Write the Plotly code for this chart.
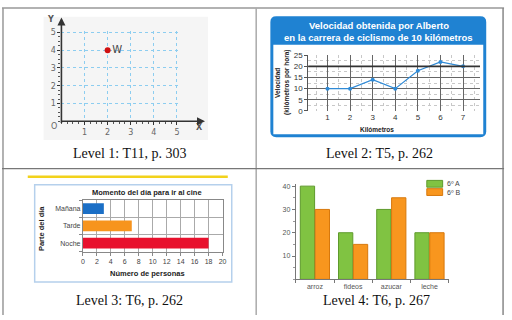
import plotly.graph_objects as go

W, H = 512, 320
def X(px): return px / W
def Y(py): return 1 - py / H

# ---------------- data ----------------
p1_x = [2]
p1_y = [4]
p1_label = ["W"]
p1_ticks = [1, 2, 3, 4, 5]

p2_km = [1, 2, 3, 4, 5, 6, 7]
p2_speed = [10, 10, 14, 10, 18, 22, 20]
p2_yticks = [0, 5, 10, 15, 20, 25]

p3_cat = ["Mañana", "Tarde", "Noche"]
p3_val = [3, 7, 18]
p3_xticks = [0, 2, 4, 6, 8, 10, 12, 14, 16, 18, 20]

p4_cat = ["arroz", "fideos", "azucar", "leche"]
p4_a = [40, 20, 30, 20]
p4_b = [30, 15, 35, 20]
p4_names = ["6º A", "6º B"]
p4_yticks = [10, 20, 30, 40]

captions = ["Level 1: T11, p. 303", "Level 2: T5, p. 262",
            "Level 3: T6, p. 262", "Level 4: T6, p. 267"]

fig = go.Figure()

# ---- panel 1 ----
fig.add_trace(go.Scatter(x=p1_x, y=p1_y, mode="markers+text", text=p1_label,
                         textposition="middle right",
                         textfont=dict(family="DejaVu Sans", size=10, color="#444"),
                         marker=dict(color="#d01010", size=6),
                         xaxis="x", yaxis="y", showlegend=False, cliponaxis=False))
# ---- panel 2 ----
fig.add_trace(go.Scatter(x=p2_km, y=p2_speed, mode="lines+markers",
                         line=dict(color="#2f8ad6", width=1.2),
                         marker=dict(color="#2f8ad6", size=4),
                         xaxis="x2", yaxis="y2", showlegend=False))
# ---- panel 3 ----
fig.add_trace(go.Bar(y=p3_cat, x=p3_val, orientation="h", width=0.62,
                     marker=dict(color=["#1b6fc6", "#f7941d", "#e8112d"], line=dict(width=0)),
                     xaxis="x3", yaxis="y3", showlegend=False))
# ---- panel 4 ----
fig.add_trace(go.Bar(x=p4_cat, y=p4_a, name=p4_names[0],
                     marker=dict(color="#80c342", line=dict(color="#5e9a2c", width=1)),
                     xaxis="x4", yaxis="y4", showlegend=False))
fig.add_trace(go.Bar(x=p4_cat, y=p4_b, name=p4_names[1],
                     marker=dict(color="#f8961e", line=dict(color="#d7780c", width=1)),
                     xaxis="x4", yaxis="y4", showlegend=False))

def rrect(x0, y0, x1, y1, r):
    def P(x, y): return f"{X(x):.5f},{Y(y):.5f}"
    return (f"M {P(x0+r,y0)} L {P(x1-r,y0)} Q {P(x1,y0)} {P(x1,y0+r)} "
            f"L {P(x1,y1-r)} Q {P(x1,y1)} {P(x1-r,y1)} L {P(x0+r,y1)} "
            f"Q {P(x0,y1)} {P(x0,y1-r)} L {P(x0,y0+r)} Q {P(x0,y0)} {P(x0+r,y0)} Z")

shapes = []
# table borders
shapes += [
    dict(type="line", xref="paper", yref="paper", x0=X(0), x1=X(507), y0=Y(4), y1=Y(4), line=dict(color="#999", width=1.5)),
    dict(type="line", xref="paper", yref="paper", x0=X(1), x1=X(1), y0=Y(4), y1=Y(320), line=dict(color="#999", width=1.5)),
    dict(type="line", xref="paper", yref="paper", x0=X(256.7), x1=X(256.7), y0=Y(4), y1=Y(320), line=dict(color="#aaa", width=1.5)),
    dict(type="line", xref="paper", yref="paper", x0=X(506), x1=X(506), y0=Y(4), y1=Y(320), line=dict(color="#888", width=1.5)),
    dict(type="line", xref="paper", yref="paper", x0=X(0), x1=X(507), y0=Y(169.3), y1=Y(169.3), line=dict(color="#777", width=1.2)),
]
# panel 1 background
shapes.append(dict(type="rect", xref="paper", yref="paper", x0=X(42), x1=X(208), y0=Y(13), y1=Y(140),
                   fillcolor="#f5f5f5", line=dict(width=0), layer="below"))
# panel 2 frame
shapes.append(dict(type="path", xref="paper", yref="paper", path=rrect(271, 12.5, 489, 137, 6),
                   fillcolor="#1f82d2", line=dict(width=0), layer="below"))
shapes.append(dict(type="rect", xref="paper", yref="paper", x0=X(274), x1=X(486), y0=Y(42), y1=Y(134),
                   fillcolor="white", line=dict(width=0), layer="below"))
shapes.append(dict(type="line", xref="x2 domain", yref="y2", x0=0, x1=1, y0=20, y1=20,
                   line=dict(color="#333", width=1.6)))
# panel 3 frame
shapes.append(dict(type="line", xref="paper", yref="paper", x0=X(26), x1=X(228), y0=Y(177.7), y1=Y(177.7),
                   line=dict(color="#f2d21b", width=2.5)))
shapes.append(dict(type="rect", xref="paper", yref="paper", x0=X(33), x1=X(232), y0=Y(186), y1=Y(286),
                   fillcolor="white", line=dict(color="#b5d0ec", width=1.5), layer="below"))
# panel 4 manual legend boxes
shapes.append(dict(type="rect", xref="paper", yref="paper", x0=X(429), x1=X(445), y0=Y(181.5), y1=Y(188.5),
                   fillcolor="#80c342", line=dict(color="#5e9a2c", width=1)))
shapes.append(dict(type="rect", xref="paper", yref="paper", x0=X(429), x1=X(445), y0=Y(190), y1=Y(197),
                   fillcolor="#f8961e", line=dict(color="#d7780c", width=1)))

ann = []
def A(text, px, py, size=9, color="#333", family="Liberation Sans", bold=False, angle=0, xanchor="center"):
    t = f"<b>{text}</b>" if bold else text
    ann.append(dict(text=t, x=X(px), y=Y(py), xref="paper", yref="paper", showarrow=False,
                    xanchor=xanchor, yanchor="middle", textangle=angle,
                    font=dict(size=size, color=color, family=family)))

# captions
A(captions[0], 129, 154, 14, "#111", "Liberation Serif")
A(captions[1], 381, 154, 14, "#111", "Liberation Serif")
A(captions[2], 129, 305, 14, "#111", "Liberation Serif")
A(captions[3], 378, 305, 14, "#111", "Liberation Serif")
# panel 1 labels
A("Y", 48.5, 16, 8, "#555", "DejaVu Sans", True)
A("X", 199.5, 127, 8, "#555", "DejaVu Sans", True)
A("O", 53, 126, 8, "#666", "DejaVu Sans")
# axis arrows panel 1
ann.append(dict(x=X(205), y=Y(120.7), xref="paper", yref="paper", ax=-145, ay=0, text="",
                showarrow=True, arrowhead=2, arrowsize=1, arrowwidth=1.6, arrowcolor="#333"))
ann.append(dict(x=X(60), y=Y(14), xref="paper", yref="paper", ax=0, ay=107, text="",
                showarrow=True, arrowhead=2, arrowsize=1, arrowwidth=1.6, arrowcolor="#333"))
# panel 2 title
A("Velocidad obtenida por Alberto", 381, 22, 9.5, "white", "Liberation Sans", True)
A("en la carrera de ciclismo de 10 kilómetros", 380, 34.5, 9.5, "white", "Liberation Sans", True)
A("Velocidad", 278, 81, 6.5, "#222", "Liberation Sans", True, -90)
A("(kilómetros por hora)", 288, 81, 6.5, "#222", "Liberation Sans", True, -90)
A("Kilómetros", 379, 129, 6.5, "#222", "Liberation Sans", True)
# panel 3 titles
A("Momento del día para ir al cine", 146, 194, 7.5, "#222", "Liberation Sans", True)
A("Número de personas", 147, 277, 7.5, "#222", "Liberation Sans", True)
A("Parte del día", 40, 231, 7.5, "#222", "Liberation Sans", True, -90)
# panel 4 legend text
A(p4_names[0], 447, 184.5, 7, "#444", "Liberation Sans", False, 0, "left")
A(p4_names[1], 447, 194, 7, "#444", "Liberation Sans", False, 0, "left")

tf_small = dict(family="Liberation Sans", size=7, color="#444")

fig.update_layout(
    width=W, height=H, margin=dict(l=0, r=0, t=0, b=0),
    paper_bgcolor="white", plot_bgcolor="rgba(0,0,0,0)",
    barmode="group", bargap=0.22, bargroupgap=0.04,
    shapes=shapes, annotations=ann, showlegend=False,
    # panel 1
    xaxis=dict(domain=[X(60), X(179)], range=[0, 5.1], tickvals=p1_ticks,
               showgrid=True, gridcolor="#8ccdf0", griddash="dot", gridwidth=1,
               zeroline=False, showline=False, ticks="outside", ticklen=3, tickcolor="#333",
               minor=dict(ticks="outside", ticklen=2, dtick=0.25, tickcolor="#555"),
               tickfont=dict(family="DejaVu Sans", size=8, color="#666"), anchor="y", fixedrange=True),
    yaxis=dict(domain=[Y(120.7), Y(27.4)], range=[0, 5.1], tickvals=p1_ticks,
               showgrid=True, gridcolor="#8ccdf0", griddash="dot", gridwidth=1,
               zeroline=False, showline=False, ticks="outside", ticklen=3, tickcolor="#333",
               minor=dict(ticks="outside", ticklen=2, dtick=0.25, tickcolor="#555"),
               tickfont=dict(family="DejaVu Sans", size=8, color="#666"), anchor="x", fixedrange=True),
    # panel 2
    xaxis2=dict(domain=[X(309.3), X(482.7)], range=[0.15, 7.75], tickvals=p2_km,
                showgrid=True, gridcolor="#666", gridwidth=1, zeroline=False,
                minor=dict(showgrid=True, gridcolor="#c8c8c8", griddash="dot", dtick=0.5),
                showline=False, ticks="", tickfont=dict(family="Liberation Sans", size=8, color="#333"),
                anchor="y2"),
    yaxis2=dict(domain=[Y(110), Y(52)], range=[0, 25.3], tickvals=p2_yticks,
                showgrid=True, gridcolor="#666", gridwidth=1, zeroline=False,
                minor=dict(showgrid=True, gridcolor="#c8c8c8", griddash="dot", dtick=2.5),
                showline=True, linecolor="#555", ticks="outside", ticklen=3, tickcolor="#555",
                tickfont=dict(family="Liberation Sans", size=8, color="#333"), anchor="x2"),
    # panel 3
    xaxis3=dict(domain=[X(81.7), X(223.4)], range=[0, 20.1], tickvals=p3_xticks,
                showgrid=True, gridcolor="#aaa", zeroline=False,
                showline=True, linecolor="#888", mirror=True, ticks="outside", ticklen=3, tickcolor="#888",
                tickfont=tf_small, anchor="y3"),
    yaxis3=dict(domain=[Y(255), Y(201.7)], categoryorder="array", categoryarray=p3_cat[::-1],
                tickson="boundaries", showgrid=True, gridcolor="#aaa",
                showline=True, linecolor="#888", mirror=True, ticks="outside", ticklen=3, tickcolor="#888",
                tickfont=tf_small, anchor="x3"),
    # panel 4
    xaxis4=dict(domain=[X(296.7), X(451)], tickson="boundaries", ticks="outside", ticklen=3,
                tickcolor="#777", showline=True, linecolor="#777", showgrid=False,
                tickfont=dict(family="Liberation Sans", size=7, color="#555"), anchor="y4"),
    yaxis4=dict(domain=[Y(283.3), Y(185)], range=[0, 41], tickvals=p4_yticks,
                showgrid=False, zeroline=False, showline=True, linecolor="#777",
                ticks="outside", ticklen=3, tickcolor="#777",
                minor=dict(ticks="outside", ticklen=2, dtick=5, tickcolor="#999"),
                tickfont=dict(family="Liberation Sans", size=7, color="#555"), anchor="x4"),
)

fig.write_html("out.html")
